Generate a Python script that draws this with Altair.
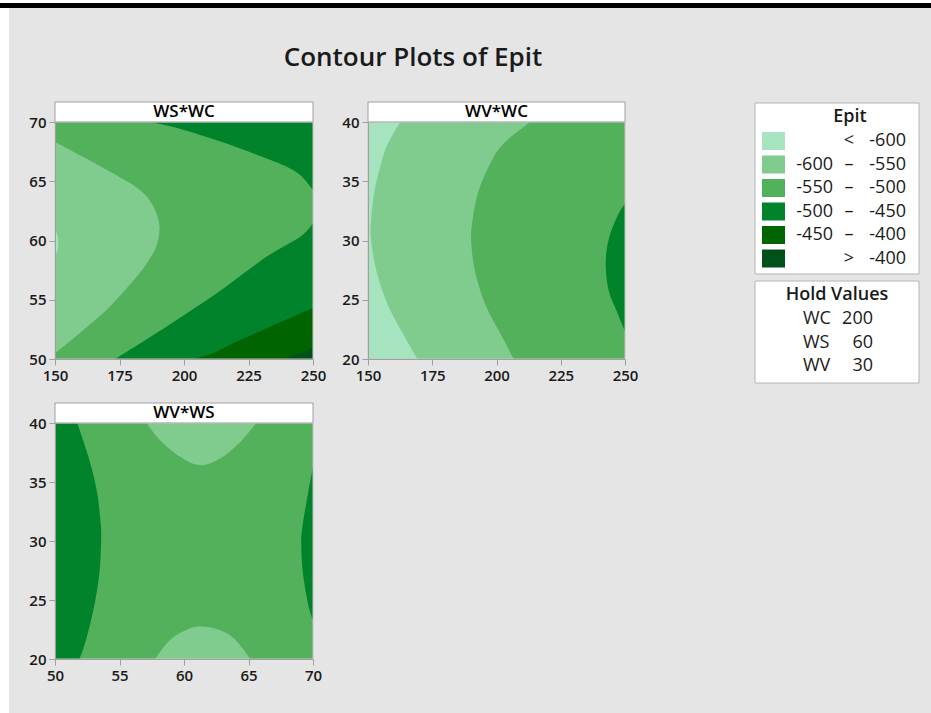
import altair as alt
import pandas as pd

# ---------------- Epit bands ----------------
BAND_LABELS = ["< -600", "-600 – -550", "-550 – -500", "-500 – -450", "-450 – -400", "> -400"]
BAND_COLORS = ["#a6e3bf", "#80cc8f", "#53b05b", "#00832a", "#006400", "#00501a"]
LEGEND_LOW = ["", "-600", "-550", "-500", "-450", ""]
LEGEND_SEP = ["<", "–", "–", "–", "–", ">"]
LEGEND_HIGH = ["-600", "-550", "-500", "-450", "-400", "-400"]

HOLD_NAMES = ["WC", "WS", "WV"]
HOLD_VALUES = [200, 60, 30]

WC_RANGE = [150, 250]
WS_RANGE = [50, 70]
WV_RANGE = [20, 40]
WC_TICKS = [150, 175, 200, 225, 250]
WS_TICKS = [50, 55, 60, 65, 70]
WV_TICKS = [20, 25, 30, 35, 40]

# ---------------- WS*WC contours (x = WC, y = WS) ----------------
# -600 contour: small lobe at the left edge (WC as a function of WS)
WSWC_L600_WS = [58.6, 59.2, 59.8, 60.4, 60.9]
WSWC_L600_WC = [150.0, 151.0, 151.3, 151.0, 150.0]
# -550 contour (WC as a function of WS)
WSWC_L550_WS = [50.5, 51.63, 53.03, 54.43, 55.83, 56.96, 58.08, 59.48, 61.16, 62.85, 64.25, 65.65, 67.05, 68.32]
WSWC_L550_WC = [150.0, 156.5, 164.2, 171.3, 177.2, 181.7, 185.6, 189.2, 190.5, 188.2, 183.0, 172.6, 161.0, 150.0]
# -500 contour, upper-right branch (WS as a function of WC)
WSWC_U500_WC = [186.2, 195.9, 212.7, 227.0, 238.6, 245.1, 250.0]
WSWC_U500_WS = [70.0, 69.58, 68.46, 67.34, 66.35, 65.5, 64.25]
# -500 contour, lower-right branch
WSWC_B500_WC = [173.3, 193.3, 212.7, 232.1, 245.1, 250.0]
WSWC_B500_WS = [50.0, 52.75, 55.55, 58.64, 60.32, 61.45]
# -450 contour
WSWC_B450_WC = [203.7, 211.4, 219.2, 232.1, 250.0]
WSWC_B450_WS = [50.0, 50.5, 51.35, 52.6, 54.3]
# -400 contour
WSWC_B400_WC = [238.6, 245.1, 250.0]
WSWC_B400_WS = [50.0, 50.5, 50.93]

# ---------------- WV*WC contours (x = WC, y = WV) ----------------
WVWC_L600_WV = [20.0, 21.63, 24.43, 27.24, 30.04, 31.73, 34.25, 37.05, 38.46, 40.0]
WVWC_L600_WC = [169.3, 164.9, 158.0, 153.5, 151.2, 151.2, 152.6, 155.8, 158.4, 162.6]
WVWC_L550_WV = [20.0, 21.63, 24.43, 27.24, 29.76, 31.44, 34.25, 37.05, 38.46, 40.0]
WVWC_L550_WC = [206.7, 202.8, 196.0, 191.8, 190.2, 190.5, 193.1, 198.9, 204.1, 213.2]
WVWC_R500_WV = [22.33, 23.87, 25.83, 28.08, 30.04, 32.0, 33.13]
WVWC_R500_WC = [250.0, 247.1, 243.6, 242.5, 243.6, 246.9, 250.0]

# ---------------- WV*WS contours (x = WS, y = WV) ----------------
WVWS_L500_WV = [20.0, 21.63, 24.45, 27.27, 29.8, 31.5, 34.31, 37.13, 40.0]
WVWS_L500_WS = [51.89, 52.41, 53.03, 53.44, 53.57, 53.54, 53.23, 52.59, 51.73]
WVWS_R500_WV = [23.32, 24.45, 27.27, 29.8, 31.5, 34.31, 36.28]
WVWS_R500_WS = [70.0, 69.66, 69.22, 69.09, 69.22, 69.66, 70.0]
WVWS_T550_WS = [57.11, 58.15, 59.7, 61.25, 62.8, 64.36, 65.6]
WVWS_T550_WV = [40.0, 38.54, 37.13, 36.42, 36.99, 38.39, 40.0]
WVWS_B550_WS = [57.76, 58.93, 60.22, 61.25, 62.55, 63.84, 65.14]
WVWS_B550_WV = [20.0, 21.63, 22.48, 22.76, 22.54, 21.77, 20.0]

FONT = "Open Sans"
INK = "#1a1a1a"
EDGE = "#a0a0a0"

COLOR = alt.Color("band:N", scale=alt.Scale(domain=BAND_LABELS, range=BAND_COLORS), legend=None)


def axis(values):
    return alt.Axis(values=values, title=None, grid=False, labelFont=FONT, labelFontSize=15,
                    labelFontWeight=600, labelColor=INK, labelFlush=False, labelOverlap=False,
                    labelPadding=3, tickSize=6, tickColor=EDGE, domainColor=EDGE, zindex=1)


def panel(title, xr, yr, xticks, yticks, width, height, pieces, extra=None):
    xs = alt.Scale(domain=xr, nice=False, zero=False)
    ys = alt.Scale(domain=yr, nice=False, zero=False)
    X = lambda f: alt.X(f, type="quantitative", scale=xs, axis=axis(xticks))
    Y = lambda f: alt.Y(f, type="quantitative", scale=ys, axis=axis(yticks))

    layers = list(extra or [])
    base = pd.DataFrame({"x": [xr[0]], "x2": [xr[1]], "y": [yr[0]], "y2": [yr[1]],
                         "band": [BAND_LABELS[2]]})
    layers.append(alt.Chart(base).mark_rect().encode(x=X("x"), x2="x2", y=Y("y"), y2="y2", color=COLOR))

    for kind, cx, cy, edge, band in pieces:
        df = pd.DataFrame({"x": cx, "y": cy, "e": [edge] * len(cx), "band": band})
        if kind == "h":  # band between a curve x(y) and a vertical edge
            layers.append(alt.Chart(df).mark_area(orient="horizontal", interpolate="cardinal", clip=True)
                          .encode(y=Y("y"), x=X("x"), x2="e", color=COLOR))
        else:  # band between a curve y(x) and a horizontal edge
            layers.append(alt.Chart(df).mark_area(orient="vertical", interpolate="cardinal", clip=True)
                          .encode(x=X("x"), y=Y("y"), y2="e", color=COLOR))

    head = pd.DataFrame({"t": [title]})
    layers.append(alt.Chart(head).mark_rect(fill="white", stroke=EDGE, strokeWidth=1)
                  .encode(x=alt.value(0), x2=alt.value(width), y=alt.value(-20), y2=alt.value(0)))
    layers.append(alt.Chart(head).mark_text(font=FONT, fontSize=17, fontWeight=600, color="black",
                                            baseline="middle", align="center")
                  .encode(text="t:N", x=alt.value(width / 2), y=alt.value(-10)))
    layers.append(alt.Chart(head).mark_rect(fill=None, stroke="#c4c4c4", strokeWidth=1)
                  .encode(x=alt.value(0), x2=alt.value(width), y=alt.value(0), y2=alt.value(height)))
    return alt.layer(*layers).properties(width=width, height=height)


# page backdrop and title, positioned relative to the first panel's plot area
one = pd.DataFrame({"t": ["Contour Plots of Epit"]})
backdrop = [
    alt.Chart(one).mark_rect(fill="white").encode(
        x=alt.value(-55), x2=alt.value(876), y=alt.value(-122), y2=alt.value(591)),
    alt.Chart(one).mark_rect(fill="#e5e5e5").encode(
        x=alt.value(-46), x2=alt.value(876), y=alt.value(-114), y2=alt.value(591)),
    alt.Chart(one).mark_rect(fill="black").encode(
        x=alt.value(-55), x2=alt.value(876), y=alt.value(-119), y2=alt.value(-114)),
    alt.Chart(one).mark_text(font=FONT, fontSize=26, fontWeight=600, color=INK,
                             align="center", baseline="middle").encode(
        text="t:N", x=alt.value(358), y=alt.value(-64)),
]

p_wswc = panel("WS*WC", WC_RANGE, WS_RANGE, WC_TICKS, WS_TICKS, 258, 237, [
    ("h", WSWC_L550_WC, WSWC_L550_WS, WC_RANGE[0], BAND_LABELS[1]),
    ("h", WSWC_L600_WC, WSWC_L600_WS, WC_RANGE[0], BAND_LABELS[0]),
    ("v", WSWC_U500_WC, WSWC_U500_WS, WS_RANGE[1], BAND_LABELS[3]),
    ("v", WSWC_B500_WC, WSWC_B500_WS, WS_RANGE[0], BAND_LABELS[3]),
    ("v", WSWC_B450_WC, WSWC_B450_WS, WS_RANGE[0], BAND_LABELS[4]),
    ("v", WSWC_B400_WC, WSWC_B400_WS, WS_RANGE[0], BAND_LABELS[5]),
], extra=backdrop)

p_wvwc = panel("WV*WC", WC_RANGE, WV_RANGE, WC_TICKS, WV_TICKS, 257, 237, [
    ("h", WVWC_L550_WC, WVWC_L550_WV, WC_RANGE[0], BAND_LABELS[1]),
    ("h", WVWC_L600_WC, WVWC_L600_WV, WC_RANGE[0], BAND_LABELS[0]),
    ("h", WVWC_R500_WC, WVWC_R500_WV, WC_RANGE[1], BAND_LABELS[3]),
])

p_wvws = panel("WV*WS", WS_RANGE, WV_RANGE, WS_TICKS, WV_TICKS, 258, 236, [
    ("h", WVWS_L500_WS, WVWS_L500_WV, WS_RANGE[0], BAND_LABELS[3]),
    ("h", WVWS_R500_WS, WVWS_R500_WV, WS_RANGE[1], BAND_LABELS[3]),
    ("v", WVWS_T550_WS, WVWS_T550_WV, WV_RANGE[1], BAND_LABELS[1]),
    ("v", WVWS_B550_WS, WVWS_B550_WV, WV_RANGE[0], BAND_LABELS[1]),
])

# ---------------- legend + hold values boxes ----------------
ROW0, ROWSTEP = 19.0, 23.5
leg = pd.DataFrame({"band": BAND_LABELS, "low": LEGEND_LOW, "sep": LEGEND_SEP, "high": LEGEND_HIGH})
leg["yc"] = [ROW0 + i * ROWSTEP for i in range(len(leg))]
leg["y0"] = leg["yc"] - 9
leg["y1"] = leg["yc"] + 9
hold = pd.DataFrame({"name": HOLD_NAMES, "value": [str(v) for v in HOLD_VALUES]})
hold["yc"] = [197 + i * 23.5 for i in range(len(hold))]
titles = pd.DataFrame({"t": ["Epit", "Hold Values"], "x": [170, 157], "y": [-5, 173]})
boxes = pd.DataFrame({"y0": [-19, 159], "y1": [152, 261]})

text_kw = dict(font=FONT, fontSize=18, color=INK, baseline="middle")
legend_view = alt.layer(
    alt.Chart(boxes).mark_rect(fill="white", stroke="#b4b4b4", strokeWidth=1).encode(
        x=alt.value(75), x2=alt.value(239),
        y=alt.Y("y0:Q", scale=None), y2="y1:Q"),
    alt.Chart(titles).mark_text(fontWeight=600, align="center", **text_kw).encode(
        text="t:N", x=alt.X("x:Q", scale=None), y=alt.Y("y:Q", scale=None)),
    alt.Chart(leg).mark_rect().encode(
        x=alt.value(82), x2=alt.value(105), y=alt.Y("y0:Q", scale=None), y2="y1:Q", color=COLOR),
    alt.Chart(leg).mark_text(align="right", **text_kw).encode(
        text="low:N", x=alt.value(153), y=alt.Y("yc:Q", scale=None)),
    alt.Chart(leg).mark_text(align="center", **text_kw).encode(
        text="sep:N", x=alt.value(169), y=alt.Y("yc:Q", scale=None)),
    alt.Chart(leg).mark_text(align="right", **text_kw).encode(
        text="high:N", x=alt.value(226), y=alt.Y("yc:Q", scale=None)),
    alt.Chart(hold).mark_text(align="left", **text_kw).encode(
        text="name:N", x=alt.value(123), y=alt.Y("yc:Q", scale=None)),
    alt.Chart(hold).mark_text(align="right", **text_kw).encode(
        text="value:N", x=alt.value(193), y=alt.Y("yc:Q", scale=None)),
).properties(width=240, height=237)

chart = alt.concat(
    p_wswc, p_wvwc, legend_view, p_wvws,
    columns=3, spacing={"row": 64, "column": 55}, bounds="flush", align="each",
).properties(
    autosize=alt.AutoSizeParams(type="none"),
    padding={"left": 55, "top": 122, "right": 876, "bottom": 591},
).configure(
    background="#e5e5e5"
).configure_view(
    stroke=None, strokeWidth=0, fill=None
)

chart.save("out.html", embed_options={"renderer": "svg", "actions": False})
